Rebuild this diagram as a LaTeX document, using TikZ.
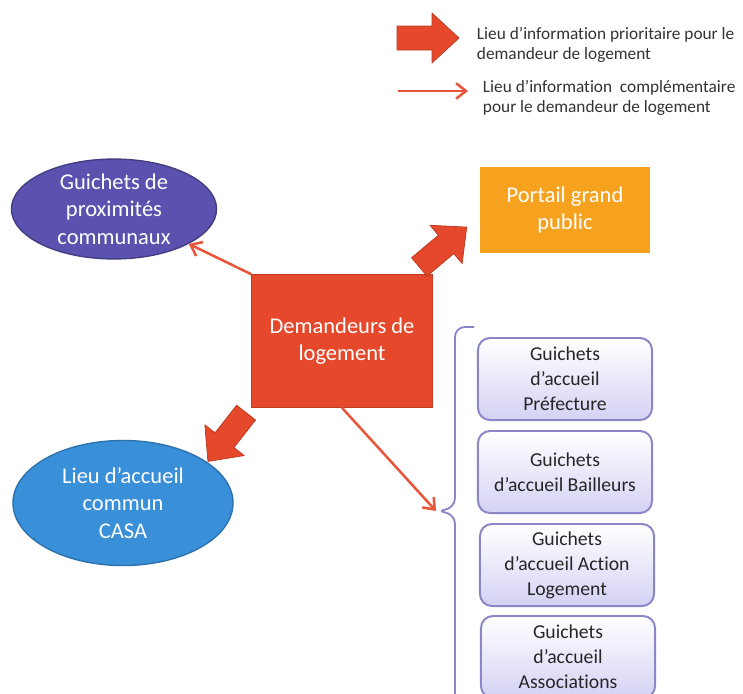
\documentclass[tikz,border=0pt]{standalone}
\usepackage{fontspec}
\setmainfont{Carlito}[Ligatures=NoCommon]
\usetikzlibrary{shapes.geometric,arrows.meta}

\definecolor{demred}{HTML}{E5482B}
\definecolor{arrred}{HTML}{E8553A}
\definecolor{portorange}{HTML}{F6A21E}
\definecolor{proxpurple}{HTML}{5A52AE}
\definecolor{casablue}{HTML}{3A8FD9}
\definecolor{guiborder}{HTML}{8A86C8}
\definecolor{guifill}{HTML}{D4D2F4}
\definecolor{legtext}{HTML}{333333}

\begin{document}
\begin{tikzpicture}[x=0.025cm, y=-0.025cm, line join=round,
    whitetext/.style={text=white, align=center, font=\fontsize{16}{19.5}\selectfont},
    oval/.style={ellipse, inner sep=0pt, line width=1pt, whitetext},
    guichet/.style={draw=guiborder, line width=1.4pt, rounded corners=0.3cm,
        top color=white, bottom color=guifill, minimum width=4.35cm, minimum height=2.05cm,
        align=center, text=black!85, font=\fontsize{14}{17.7}\selectfont},
    legende/.style={anchor=west, align=left, text=legtext, font=\fontsize{12.3}{14.5}\selectfont},
    thinarrow/.style={draw=arrred, line width=1.8pt, -{Straight Barb[length=7pt,width=11pt]}},
    bigarrow/.pic={\filldraw[fill=demred, draw=demred!80!black, line width=0.5pt]
        (-31,-12) -- (4,-12) -- (4,-25) -- (31,0) -- (4,25) -- (4,12) -- (-31,12) -- cycle;}]
    \clip (0,0) rectangle (743,693);
    \fill[white] (0,0) rectangle (743,693);

    % legend
    \pic at (428,38) {bigarrow};
    \node[legende] (leg1) at (472,45) {Lieu d'information prioritaire pour le\\demandeur de logement};
    \coordinate (l1) at (398,91);
    \coordinate (l2) at (468,91);
    \draw[thinarrow] (l1) -- (l2);
    \node[legende] (leg2) at (478,98) {Lieu d'information \ complémentaire\\pour le demandeur de logement};

    % main nodes
    \node[draw=demred!85!black, fill=demred, minimum width=4.525cm, minimum height=3.325cm,
        whitetext] (dem) at (342,341) {Demandeurs de\\logement};
    \node[fill=portorange, minimum width=4.25cm, minimum height=2.15cm, whitetext]
        (portail) at (565,210) {Portail grand\\public};
    \node[oval, fill=proxpurple, draw=proxpurple!75!black, minimum width=5.125cm,
        minimum height=2.375cm] (prox) at (114,209) {Guichets de\\proximités\\communaux};
    \node[oval, fill=casablue, draw=casablue!80!black, minimum width=5.5cm,
        minimum height=3.125cm] (casa) at (123,503) {Lieu d'accueil\\commun\\CASA};

    % guichets
    \node[guichet] (pref) at (565,379) {Guichets\\d'accueil\\Préfecture};
    \node[guichet] (bail) at (565,472) {Guichets\\d'accueil Bailleurs};
    \node[guichet] (action) at (567,565) {Guichets\\d'accueil Action\\Logement};
    \node[guichet] (asso) at (568,657) {Guichets\\d'accueil\\Associations};

    % bracket
    \coordinate (brace) at (436,511);
    \draw[guiborder, line width=1.3pt, rounded corners=7pt]
        (474,327) -- (455,327) -- (455,508) -- (brace) -- (455,514) -- (455,700);

    % arrows
    \pic[rotate=40] at (443,247) {bigarrow};
    \pic[rotate=-128] at (227,437) {bigarrow};
    \draw[thinarrow] (dem.north west) -- (prox.-25);
    \draw[thinarrow] (dem.south) -- (brace);
\end{tikzpicture}
\end{document}
